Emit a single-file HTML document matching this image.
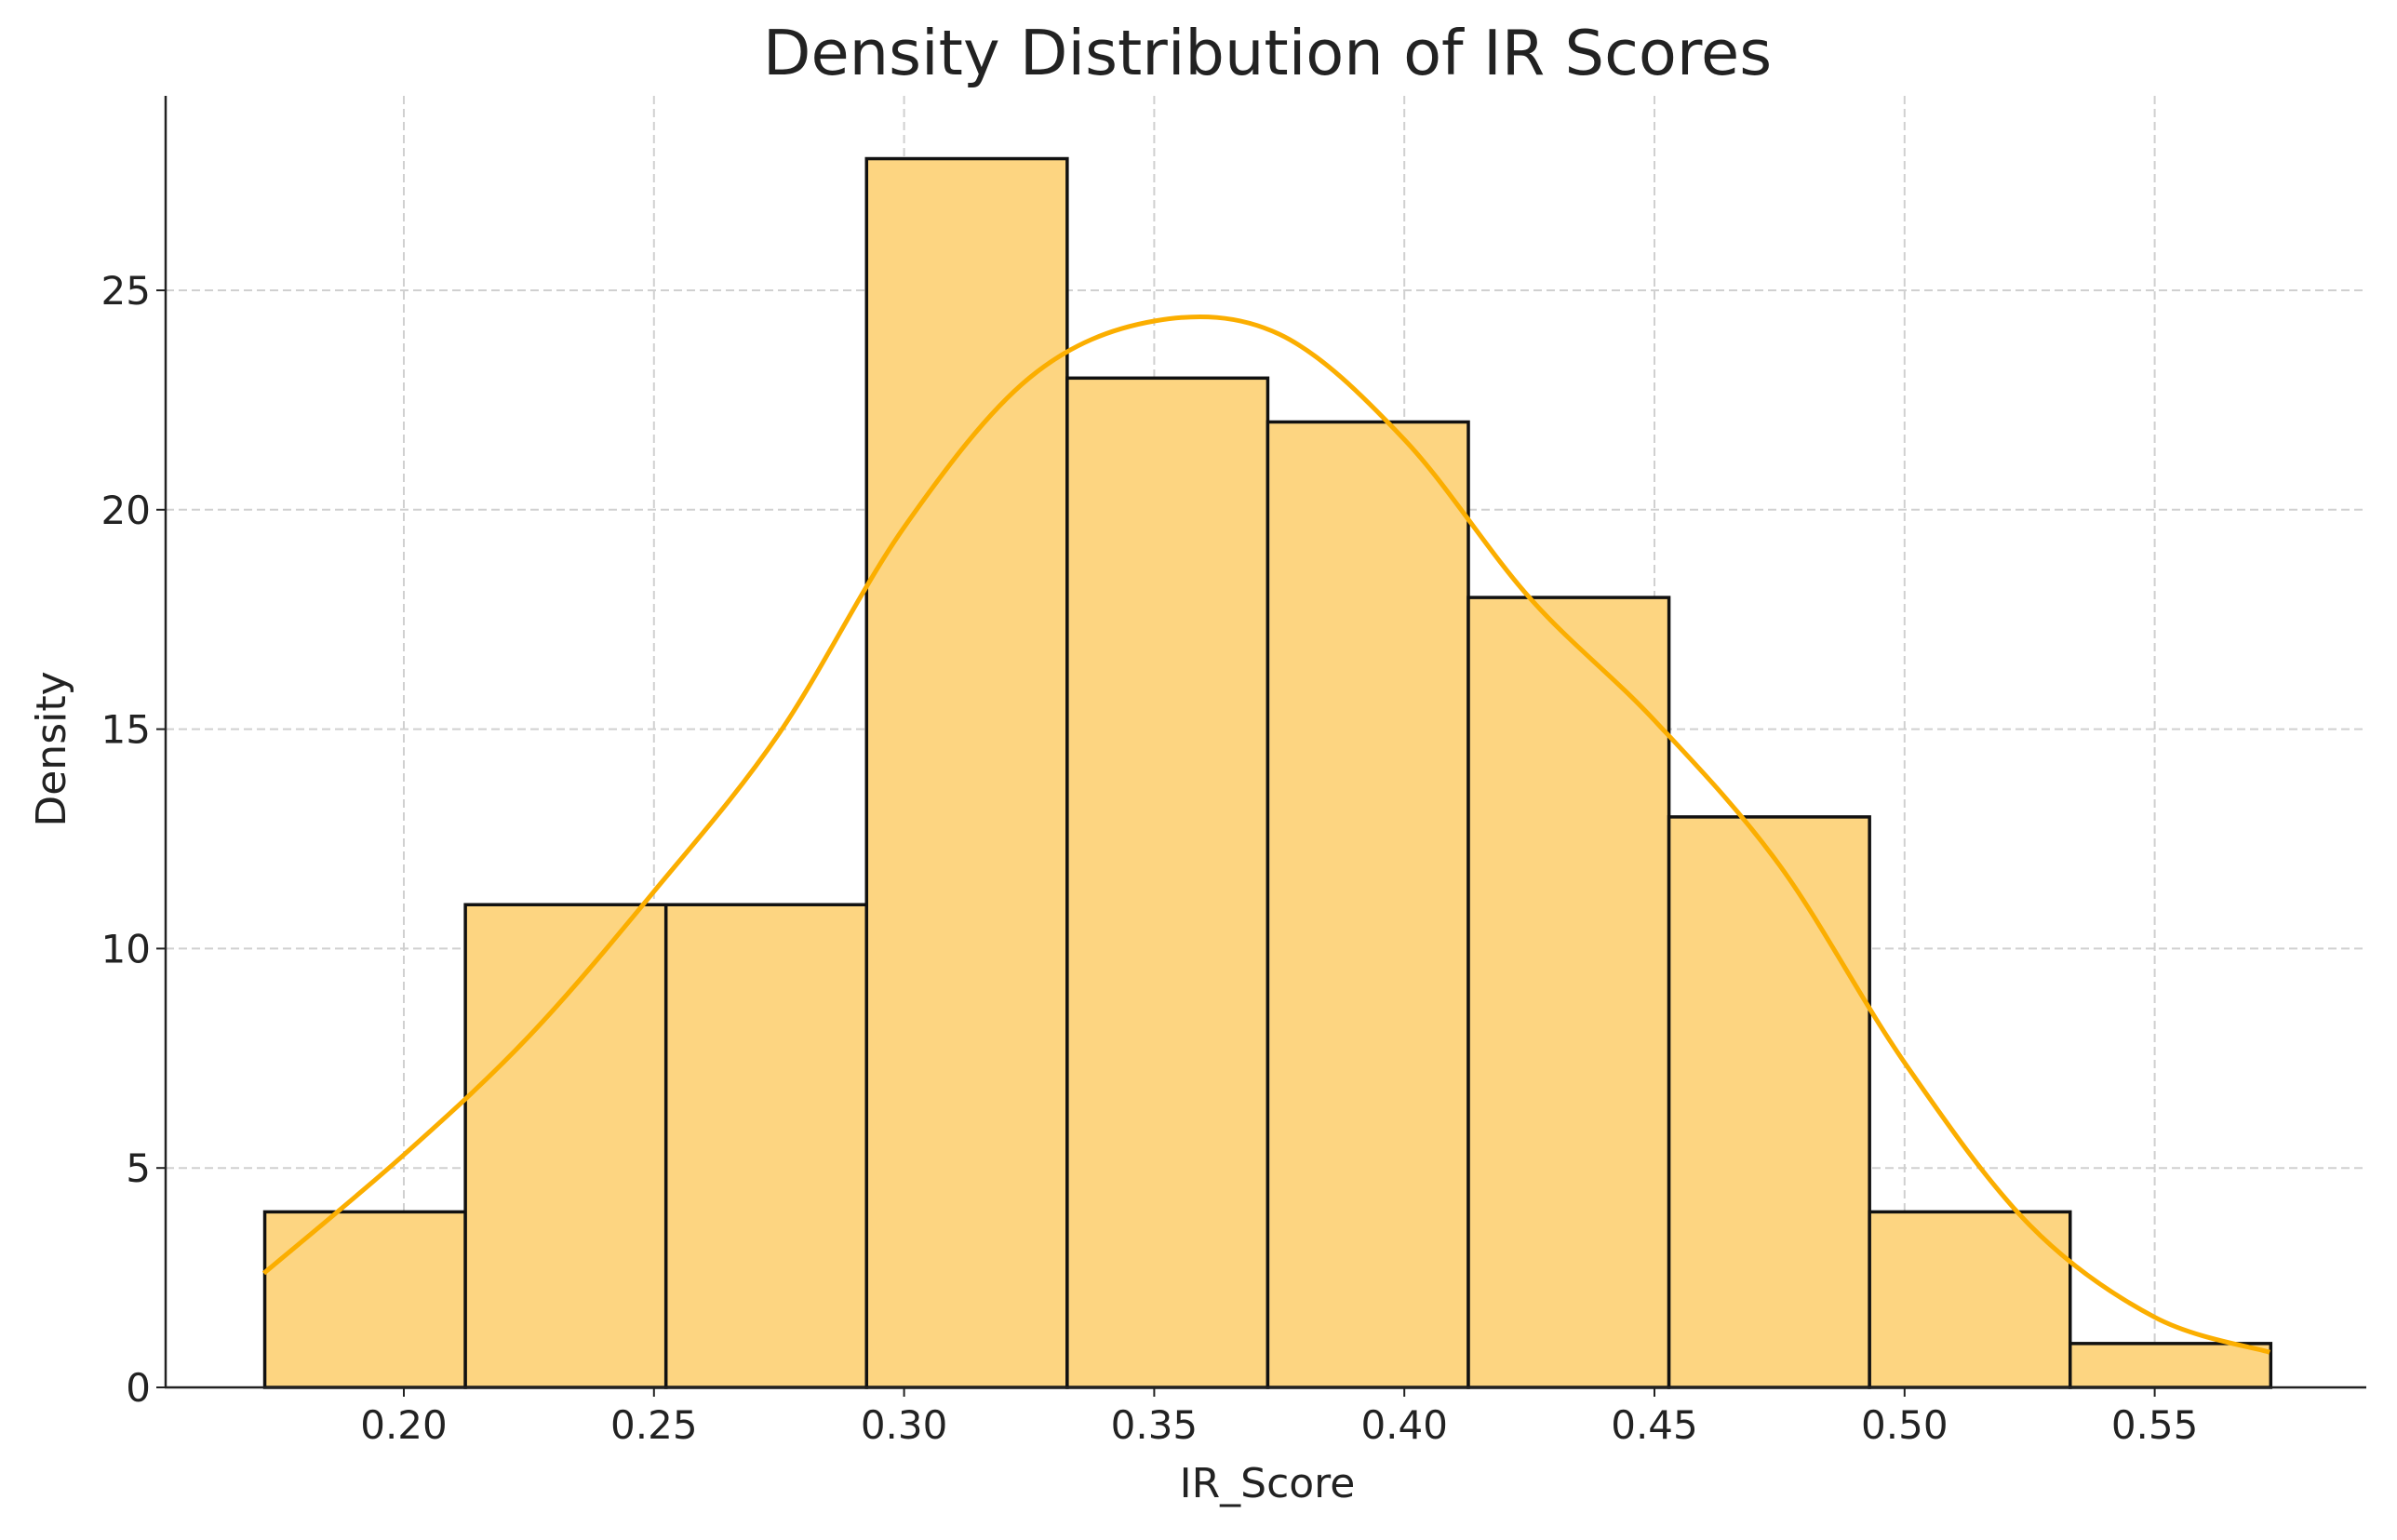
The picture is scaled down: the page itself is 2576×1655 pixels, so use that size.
<!DOCTYPE html>
<html><head><meta charset="utf-8"><style>
html,body{margin:0;padding:0;background:#fff;}
svg{display:block;}
text{font-family:"DejaVu Sans","Liberation Sans",sans-serif;fill:#222;}
</style></head><body>
<svg id="chart" width="2576" height="1655" viewBox="0 0 2576 1655">
<text x="1362" y="80" font-size="67" text-anchor="middle">Density Distribution of IR Scores</text>
<g id="grid"></g>
<g id="bars"></g>
<path id="kde" fill="none" stroke="#FBAE00" stroke-width="5"></path>
<g id="axes"></g>
<text x="1362" y="1609" font-size="44" text-anchor="middle">IR_Score</text>
<text x="0" y="0" font-size="44" text-anchor="middle" transform="translate(70,805) rotate(-90)">Density</text>
</svg>
<script>
const binEdges=[0.1722,0.2123,0.2524,0.2925,0.3326,0.3727,0.4128,0.4529,0.4930,0.5331,0.5732];
const binHeights=[4,11,11,28,23,22,18,13,4,1];
const kdeX=[0.172,0.20,0.225,0.25,0.275,0.30,0.325,0.35,0.375,0.40,0.425,0.45,0.475,0.50,0.525,0.55,0.573];
const kdeY=[2.6,5.3,8.0,11.3,14.9,19.6,23.0,24.3,24.0,21.6,18.0,15.2,11.9,7.4,3.7,1.6,0.8];
const xTicks=[0.20,0.25,0.30,0.35,0.40,0.45,0.50,0.55];
const xTickLabels=["0.20","0.25","0.30","0.35","0.40","0.45","0.50","0.55"];
const yTicks=[0,5,10,15,20,25];
const yTickLabels=["0","5","10","15","20","25"];

const NS="http://www.w3.org/2000/svg";
const X0=178,X1=2543,Y0=1491,YT=103;
function sx(v){return 434+(v-0.20)/0.05*268.8;}
function sy(v){return Y0-v*47.16;}
function mk(tag,attrs,parent){const e=document.createElementNS(NS,tag);for(const k in attrs)e.setAttribute(k,attrs[k]);parent.appendChild(e);return e;}
const grid=document.getElementById('grid'),bars=document.getElementById('bars'),axes=document.getElementById('axes');
xTicks.forEach((t,i)=>{
  const l=mk('line',{x1:sx(t),x2:sx(t),y1:YT,y2:Y0,stroke:'#d0d0d0','stroke-width':2,'stroke-dasharray':'9,5'},grid);
  
  
  const tk=mk('line',{x1:sx(t),x2:sx(t),y1:Y0,y2:Y0+10,stroke:'#222','stroke-width':2},axes);
  
  
  const tx=mk('text',{x:sx(t),y:1546,'font-size':42,'text-anchor':'middle'},axes);
  tx.textContent=xTickLabels[i];
  
  
});
yTicks.forEach((t,i)=>{
  if(t>0){const l=mk('line',{x1:X0,x2:X1,y1:sy(t),y2:sy(t),stroke:'#d0d0d0','stroke-width':2,'stroke-dasharray':'9,5'},grid);
  
  }
  const tk=mk('line',{x1:X0-10,x2:X0,y1:sy(t),y2:sy(t),stroke:'#222','stroke-width':2},axes);
  
  
  const tx=mk('text',{x:162,y:sy(t)+15,'font-size':42,'text-anchor':'end'},axes);
  tx.textContent=yTickLabels[i];
  
  
});
binHeights.forEach((h,i)=>{
  const x=sx(binEdges[i]),w=sx(binEdges[i+1])-x;
  const r=mk('rect',{x:x,y:sy(h),width:w,height:Y0-sy(h),fill:'#FDD581',stroke:'#111','stroke-width':3.5},bars);
  
  
});
const pts=kdeX.map((v,i)=>[sx(v),sy(kdeY[i])]);
let d='M'+pts[0][0]+','+pts[0][1];
for(let i=0;i<pts.length-1;i++){
  const p0=pts[Math.max(0,i-1)],p1=pts[i],p2=pts[i+1],p3=pts[Math.min(pts.length-1,i+2)];
  const c1=[p1[0]+(p2[0]-p0[0])/6,p1[1]+(p2[1]-p0[1])/6];
  const c2=[p2[0]-(p3[0]-p1[0])/6,p2[1]-(p3[1]-p1[1])/6];
  d+=' C'+c1.join(',')+' '+c2.join(',')+' '+p2.join(',');
}
document.getElementById('kde').setAttribute('d',d);
const la=mk('line',{x1:X0,x2:X0,y1:YT,y2:Y0+1,stroke:'#222','stroke-width':2.5},axes);


const ba=mk('line',{x1:X0-1,x2:X1,y1:Y0,y2:Y0,stroke:'#222','stroke-width':2.5},axes);


</script>
</body></html>
